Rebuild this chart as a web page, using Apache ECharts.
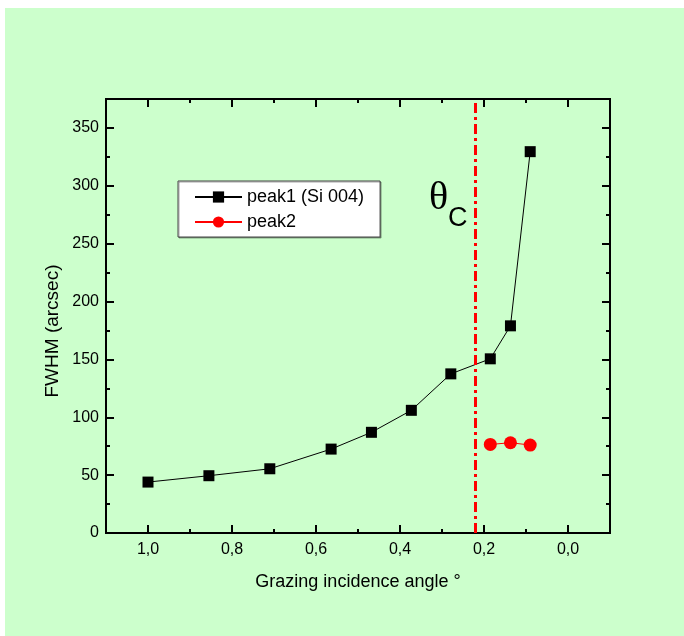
<!DOCTYPE html>
<html>
<head>
<meta charset="utf-8">
<script src="https://cdn.jsdelivr.net/npm/echarts@6/dist/echarts.min.js"></script>
<style>
html,body{margin:0;padding:0;background:#fff;}
#c{width:684px;height:636px;background:linear-gradient(#ccffcc,#ccffcc) 5px 8px / 679px 628px no-repeat #ffffff;}
</style>
</head>
<body>
<div id="c"></div>
<script>
// ---- data ----
const peak1X = [1.0, 0.855, 0.71, 0.564, 0.468, 0.373, 0.279, 0.185, 0.137, 0.090];
const peak1Y = [44, 49.5, 55.5, 72.5, 87, 106, 137.5, 150.5, 179, 329.5];
const peak2X = [0.185, 0.137, 0.090];
const peak2Y = [76.5, 78, 76];
const thetaC = 0.224;
const xMajorTicks = [0.0, 0.2, 0.4, 0.6, 0.8, 1.0];
const xMinorTicks = [0.1, 0.3, 0.5, 0.7, 0.9];
const yMajorTicks = [0, 50, 100, 150, 200, 250, 300, 350];
const yMinorTicks = [25, 75, 125, 175, 225, 275, 325];
const xRange = [-0.1, 1.1];
const yRange = [0, 375];

const FONT = "'Liberation Sans', Arial, sans-serif";
const zip = (a, b) => a.map((v, i) => [v, b[i]]);

function xAxisDef(pos, ticks, len, labels) {
  return {
    type: 'value', position: pos, inverse: true, min: xRange[0], max: xRange[1],
    axisLine: { show: true, onZero: false, lineStyle: { color: '#000', width: 2 } },
    axisTick: { show: true, inside: true, length: len, customValues: ticks, lineStyle: { color: '#000', width: 2 } },
    axisLabel: labels ? {
      show: true, customValues: ticks, margin: 9, color: '#000', fontSize: 16, fontFamily: FONT,
      formatter: v => v.toFixed(1).replace('.', ',')
    } : { show: false },
    splitLine: { show: false }
  };
}
function yAxisDef(pos, ticks, len, labels) {
  return {
    type: 'value', position: pos, min: yRange[0], max: yRange[1],
    axisLine: { show: true, onZero: false, lineStyle: { color: '#000', width: 2 } },
    axisTick: { show: true, inside: true, length: len, customValues: ticks, lineStyle: { color: '#000', width: 2 } },
    axisLabel: labels ? {
      show: true, customValues: ticks, margin: 7, color: '#000', fontSize: 16, fontFamily: FONT,
      formatter: v => String(v)
    } : { show: false },
    splitLine: { show: false }
  };
}

const xa0 = xAxisDef('bottom', xMajorTicks, 8, true);
xa0.name = 'Grazing incidence angle °';
xa0.nameLocation = 'middle';
xa0.nameGap = 40;
xa0.nameTextStyle = { color: '#000', fontSize: 18, fontFamily: FONT };

const chart = echarts.init(document.getElementById('c'), null, { renderer: 'canvas' });
chart.setOption({
  backgroundColor: 'transparent',
  animation: false,
  grid: { left: 106, top: 99, right: 74, bottom: 103, show: false },
  xAxis: [
    xa0,
    xAxisDef('bottom', xMinorTicks, 4, false),
    xAxisDef('top', xMajorTicks, 8, false),
    xAxisDef('top', xMinorTicks, 4, false)
  ],
  yAxis: [
    yAxisDef('left', yMajorTicks, 8, true),
    yAxisDef('left', yMinorTicks, 4, false),
    yAxisDef('right', yMajorTicks, 8, false),
    yAxisDef('right', yMinorTicks, 4, false)
  ],
  legend: {
    data: ['peak1 (Si 004)', 'peak2'],
    orient: 'vertical', left: 178, top: 181,
    padding: [7, 16, 6, 16], itemGap: 7, itemWidth: 47, itemHeight: 14,
    backgroundColor: '#ffffff', borderColor: '#444', borderWidth: 1,
    shadowColor: 'rgba(0,0,0,0.35)', shadowOffsetX: 1, shadowOffsetY: 1, shadowBlur: 0,
    textStyle: { color: '#000', fontSize: 18, fontFamily: FONT },
    selectedMode: false
  },
  graphic: [
    { type: 'text', x: 53, y: 331, rotation: Math.PI / 2,
      style: { text: 'FWHM (arcsec)', fill: '#000', font: '19px ' + FONT, align: 'center', verticalAlign: 'middle' } },
    { type: 'text', x: 429, y: 178,
      style: { text: 'θ', fill: '#000', font: "40px 'Liberation Serif', 'Times New Roman', serif", align: 'left', verticalAlign: 'top' } },
    { type: 'text', x: 448, y: 205,
      style: { text: 'C', fill: '#000', font: '27px ' + FONT, align: 'left', verticalAlign: 'top' } }
  ],
  series: [
    {
      name: 'peak1 (Si 004)', type: 'line', xAxisIndex: 0, yAxisIndex: 0,
      data: zip(peak1X, peak1Y),
      symbol: 'rect', symbolSize: 11,
      lineStyle: { color: '#000', width: 1 },
      itemStyle: { color: '#000' },
      z: 3,
      markLine: {
        silent: true, symbol: 'none', label: { show: false },
        lineStyle: { color: '#ff0000', width: 3, type: [10, 4, 3, 4] },
        data: [{ xAxis: thetaC }]
      }
    },
    {
      name: 'peak2', type: 'line', xAxisIndex: 0, yAxisIndex: 0,
      data: zip(peak2X, peak2Y),
      symbol: 'circle', symbolSize: 13,
      lineStyle: { color: '#ff0000', width: 1 },
      itemStyle: { color: '#ff0000' },
      z: 3
    }
  ]
});
</script>
</body>
</html>
